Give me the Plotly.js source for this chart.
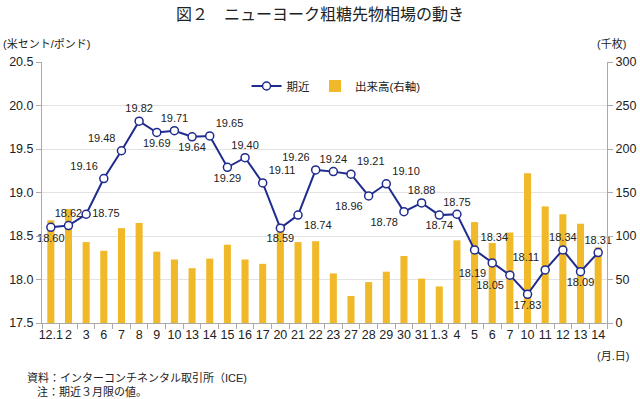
<!DOCTYPE html>
<html>
<head>
<meta charset="utf-8">
<script src="https://cdn.plot.ly/plotly-3.0.1.min.js"></script>
<style>
html,body{margin:0;padding:0;background:#fff;}
#chart{width:640px;height:399px;}
</style>
</head>
<body>
<div id="chart"></div>
<script>
// ---- data ----
const dateLabels = ["12.1","2","3","6","7","8","9","10","13","14","15","16","17","20","21","22","23","27","28","29","30","31","1.3","4","5","6","7","10","11","12","13","14"];
const priceNearby = [18.60,18.62,18.75,19.16,19.48,19.82,19.69,19.71,19.64,19.65,19.29,19.40,19.11,18.59,18.74,19.26,19.24,19.21,18.96,19.10,18.78,18.88,18.74,18.75,18.34,18.19,18.05,17.83,18.11,18.34,18.09,18.31];
const volume = [118,131,93,83,109,115,82,73,63,74,90,73,68,114,93,94,57,31,47,59,77,51,42,95,116,92,104,172,134,125,114,87];
const yLeftTicks = [17.5,18.0,18.5,19.0,19.5,20.0,20.5];
const yRightTicks = [0,50,100,150,200,250,300];

// ---- style (label placement) ----
const labelPos = ["bottom center","top center","middle right","top left","top left","top center","bottom center","top center","bottom center","top right",
  "bottom center","top center","top right","bottom center","bottom right","top left","top center","top right","bottom left","top right",
  "bottom left","top center","bottom center","top center","top right","bottom left","bottom left","bottom center","top left","top center",
  "bottom center","top center"];

const FONT = 'Arial, "Liberation Sans", "Noto Sans CJK JP", sans-serif';
const idx = dateLabels.map((_, i) => i);
const bounds = [];
for (let i = 0; i <= dateLabels.length; i++) bounds.push(i - 0.5);

const lineTrace = {
  type: 'scatter', mode: 'lines+markers+text', name: '期近',
  x: idx, y: priceNearby, yaxis: 'y2',
  text: priceNearby.map(v => v.toFixed(2)),
  textposition: labelPos,
  textfont: {family: FONT, size: 11, color: '#222'},
  line: {color: '#1f2b8e', width: 2},
  marker: {symbol: 'circle', size: 8, color: '#ffffff', line: {color: '#1f2b8e', width: 1.5}},
  cliponaxis: false
};
const barTrace = {
  type: 'bar', name: '出来高(右軸)',
  x: idx, y: volume, yaxis: 'y',
  marker: {color: '#f0b92a'},
  width: 0.4
};

const layout = {
  width: 640, height: 399,
  margin: {l: 42, r: 33, t: 62, b: 76},
  paper_bgcolor: '#fff', plot_bgcolor: '#fff',
  font: {family: FONT, size: 12, color: '#222'},
  title: {text: '図２　ニューヨーク粗糖先物相場の動き', font: {family: FONT, size: 16, color: '#222'}, x: 0.5, xanchor: 'center', y: 0.965, yanchor: 'middle'},
  showlegend: true,
  legend: {orientation: 'h', x: 0.362, xanchor: 'left', y: 0.908, yanchor: 'middle', font: {family: FONT, size: 11.5, color: '#222'}, bgcolor: 'rgba(0,0,0,0)', itemwidth: 30, traceorder: 'normal'},
  xaxis: {
    range: [-0.5, dateLabels.length - 0.5],
    tickmode: 'array', tickvals: idx, ticktext: dateLabels, tickangle: 0,
    ticks: '', showgrid: false, showline: true, linecolor: '#aaa', linewidth: 1,
    tickfont: {family: FONT, size: 12.5, color: '#222'},
    minor: {tickmode: 'array', tickvals: bounds, ticks: 'outside', ticklen: 5, tickcolor: '#aaa', showgrid: false},
    zeroline: false
  },
  yaxis: {
    side: 'right', range: [0, 300], tickmode: 'array', tickvals: yRightTicks,
    ticks: 'outside', ticklen: 5, tickcolor: '#aaa',
    showline: true, linecolor: '#aaa', linewidth: 1,
    showgrid: true, gridcolor: '#e3e3e3', zeroline: false,
    tickfont: {family: FONT, size: 12.5, color: '#222'}
  },
  yaxis2: {
    overlaying: 'y', side: 'left', range: [17.5, 20.5], tickmode: 'array', tickvals: yLeftTicks,
    tickformat: '.1f',
    ticks: 'outside', ticklen: 5, tickcolor: '#aaa',
    showline: true, linecolor: '#aaa', linewidth: 1,
    showgrid: false, zeroline: false,
    tickfont: {family: FONT, size: 12.5, color: '#222'}
  },
  annotations: [
    {text: '(米セント/ポンド)', xref: 'paper', yref: 'paper', x: -0.072, y: 1.07, xanchor: 'left', yanchor: 'middle', showarrow: false, font: {family: FONT, size: 11, color: '#222'}},
    {text: '(千枚)', xref: 'paper', yref: 'paper', x: 1.037, y: 1.07, xanchor: 'right', yanchor: 'middle', showarrow: false, font: {family: FONT, size: 11, color: '#222'}},
    {text: '(月.日)', xref: 'paper', yref: 'paper', x: 1.042, y: -0.125, xanchor: 'right', yanchor: 'middle', showarrow: false, font: {family: FONT, size: 11, color: '#222'}},
    {text: '資料：インターコンチネンタル取引所（ICE)', xref: 'paper', yref: 'paper', x: -0.030, y: -0.21, xanchor: 'left', yanchor: 'middle', showarrow: false, font: {family: FONT, size: 11, color: '#222'}},
    {text: '注：期近３月限の値。', xref: 'paper', yref: 'paper', x: -0.012, y: -0.265, xanchor: 'left', yanchor: 'middle', showarrow: false, font: {family: FONT, size: 11, color: '#222'}}
  ]
};

Plotly.newPlot('chart', [lineTrace, barTrace], layout, {displayModeBar: false, staticPlot: true});
</script>
</body>
</html>
